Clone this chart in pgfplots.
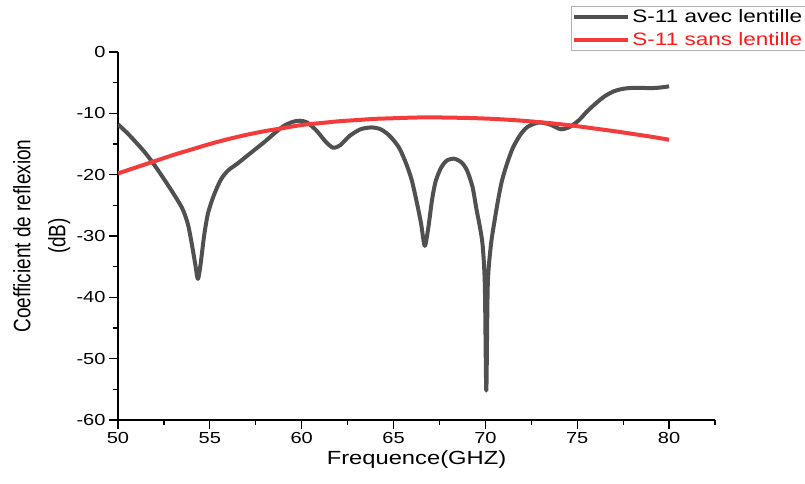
\documentclass[border=0pt]{standalone}
\usepackage{fontspec}
\setmainfont{Liberation Sans}[FakeStretch=1.25]
\newfontfamily\plainsans{Liberation Sans}
\usepackage{graphicx}
\usepackage{pgfplots}
\pgfplotsset{compat=1.18}
\definecolor{curvegray}{RGB}{80,80,80}
\definecolor{curvered}{RGB}{245,60,60}
\definecolor{legred}{RGB}{255,25,25}

\begin{document}
\begin{tikzpicture}
\begin{axis}[
  scale only axis, width=597pt, height=368pt,
  xmin=50, xmax=82.5, ymin=-60, ymax=0,
  axis lines=left, axis line style={-, line width=1.3pt},
  xtick={50,55,...,80}, ytick={-60,-50,...,0},
  minor xtick={52.5,57.5,...,82.5}, minor ytick={-55,-45,...,-5},
  tick align=outside, major tick length=9pt, minor tick length=5pt,
  every tick/.style={line width=1.2pt, black},
  /pgf/number format/assume math mode=true,
  ticklabel style={font=\fontsize{16}{19}\selectfont},
  xlabel={Frequence(GHZ)},
  xlabel style={font=\fontsize{19}{22}\selectfont},
  ylabel={\scalebox{1}[1.25]{\plainsans\fontsize{19}{22}\selectfont\begin{tabular}{@{}c@{}}Coefficient de reflexion\\[6pt](dB)\end{tabular}}},
  ylabel shift=-4pt,
  legend style={at={(0.7588,1.125)}, anchor=north west, draw=gray!60, line width=0.8pt,
    font=\fontsize{18}{21}\selectfont, inner xsep=1pt, inner ysep=1pt, row sep=5pt,
    cells={anchor=west}, fill=white},
  legend image code/.code={\draw[#1] (0pt,0pt) -- (54pt,0pt);},
]
\coordinate (O) at (rel axis cs:0,0);
\addplot[curvegray, line width=4pt, smooth, tension=0.45, line join=round] coordinates {
(50,-11.8) (50.5,-13.2) (51,-14.8) (51.5,-16.5) (52,-18.5) (52.5,-20.7) (53,-23.0)
(53.5,-25.5) (53.8,-28.0) (54.0,-31.0) (54.2,-34.5) (54.35,-37.0) (54.5,-34.5)
(54.7,-29.7) (54.9,-26.3) (55.2,-23.5) (55.6,-20.8) (56.0,-19.3) (56.5,-18.2)
(57.0,-17.0) (57.5,-15.8) (58,-14.6) (58.5,-13.3) (59,-12.1) (59.5,-11.4) (59.9,-11.2)
(60.3,-11.5) (60.8,-12.8) (61.3,-14.6) (61.7,-15.6) (62.1,-15.2) (62.6,-13.7)
(63.2,-12.6) (63.8,-12.3) (64.3,-12.6) (64.8,-13.7) (65.3,-15.6) (65.7,-18.3)
(66.0,-21) (66.3,-25) (66.5,-28) (66.7,-31.6) (66.9,-28.5) (67.1,-24) (67.3,-21)
(67.6,-18.8) (67.9,-17.7) (68.3,-17.4) (68.7,-18) (69.0,-19.3) (69.3,-22) (69.5,-25.4)
(69.7,-28.5) (69.85,-31.5) (69.97,-38) (70.05,-55.2) (70.13,-38) (70.3,-31.5)
(70.5,-27.5) (70.7,-24) (70.9,-21) (71.2,-18) (71.5,-15.6) (71.9,-13.5) (72.3,-12.2)
(72.9,-11.5) (73.5,-11.8) (74.1,-12.6) (74.6,-12.2) (75.1,-11.1) (75.5,-9.8)
(76.0,-8.4) (76.5,-7.2) (77.0,-6.4) (77.5,-6.0) (78.0,-5.85) (78.5,-5.85) (79.0,-5.9)
(79.5,-5.8) (80.0,-5.6)
};
\addlegendentry{S-11 avec lentille}
\addplot[curvered, line width=4pt, smooth] coordinates {
(50,-19.8) (51,-18.8) (52,-17.8) (53,-16.8) (54,-15.9) (55,-15.0) (56,-14.2)
(57,-13.5) (58,-12.9) (59,-12.4) (60,-11.9) (61,-11.6) (62,-11.3) (63,-11.1)
(64,-10.9) (65,-10.8) (66,-10.7) (67,-10.65) (68,-10.7) (69,-10.75) (70,-10.85)
(71,-11.0) (72,-11.2) (73,-11.45) (74,-11.75) (75,-12.1) (76,-12.5) (77,-12.9)
(78,-13.35) (79,-13.8) (80,-14.3)
};
\addlegendentry{\textcolor{legred}{S-11 sans lentille}}
\end{axis}
\pgfresetboundingbox
\path[use as bounding box] ([xshift=-118pt,yshift=-64pt]O) rectangle ++(805pt,484pt);
\end{tikzpicture}
\end{document}
